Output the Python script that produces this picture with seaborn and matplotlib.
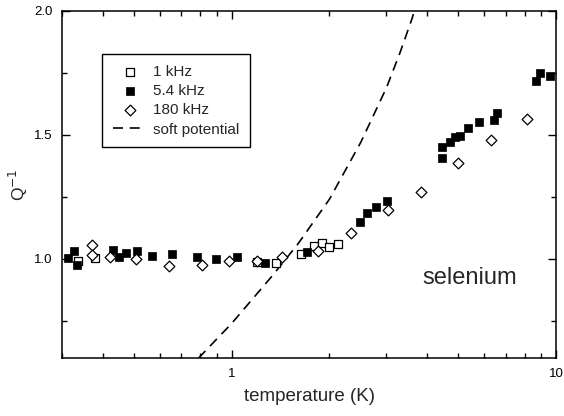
import matplotlib
matplotlib.use("Agg")
import matplotlib.pyplot as plt
import seaborn as sns
import pandas as pd
from matplotlib.ticker import FixedLocator, NullFormatter, LogLocator

# Värden (temperatur i K, Q^-1 normerat)
t_1khz = [0.335, 0.380, 1.20, 1.37, 1.63, 1.79, 1.90, 2.00, 2.13]
q_1khz = [0.992, 1.004, 0.988, 0.984, 1.020, 1.052, 1.064, 1.048, 1.060]

t_54khz = [0.313, 0.327, 0.334, 0.432, 0.451, 0.474, 0.509, 0.567, 0.653,
           0.780, 0.894, 1.04, 1.27, 1.71, 2.49, 2.62, 2.78, 3.01,
           4.44, 4.44, 4.71, 4.88, 5.06, 5.35, 5.78, 6.44, 6.58,
           8.69, 8.89, 9.55]
q_54khz = [1.004, 1.032, 0.976, 1.036, 1.008, 1.024, 1.032, 1.012, 1.020,
           1.008, 1.000, 1.008, 0.984, 1.028, 1.149, 1.185, 1.209, 1.233,
           1.406, 1.450, 1.470, 1.490, 1.494, 1.526, 1.550, 1.558, 1.590,
           1.719, 1.751, 1.739]

t_180khz = [0.370, 0.370, 0.423, 0.506, 0.640, 0.809, 0.98, 1.20, 1.43,
            1.84, 2.34, 3.03, 3.83, 4.99, 6.31, 8.15]
q_180khz = [1.056, 1.016, 1.008, 1.000, 0.972, 0.976, 0.993, 0.993, 1.008,
            1.032, 1.104, 1.197, 1.269, 1.386, 1.478, 1.562]

# soft potential-kurvan, punkter avlästa längs den streckade linjen
t_soft = [0.79, 1.0, 1.33, 1.6, 2.0, 2.5, 3.0, 3.3, 3.6, 3.75]
q_soft = [0.60, 0.74, 0.93, 1.06, 1.24, 1.47, 1.69, 1.83, 1.97, 2.05]

sns.set_theme(style="ticks")
plt.rcParams["font.family"] = ["Liberation Sans", "DejaVu Sans"]

df_1 = pd.DataFrame({"t": t_1khz, "q": q_1khz})
df_54 = pd.DataFrame({"t": t_54khz, "q": q_54khz})
df_180 = pd.DataFrame({"t": t_180khz, "q": q_180khz})
df_soft = pd.DataFrame({"t": t_soft, "q": q_soft})

fig = plt.figure(figsize=(5.64, 4.16), dpi=100)
ax = fig.add_axes([0.110, 0.139, 0.876, 0.835])

sns.lineplot(data=df_soft, x="t", y="q", ax=ax, color="black", lw=1.2,
             label="soft potential", zorder=1)
ax.lines[-1].set_dashes((6, 4))

sns.scatterplot(data=df_1, x="t", y="q", ax=ax, marker="s", s=34,
                facecolor="white", edgecolor="black", linewidth=0.9,
                label="1 kHz", zorder=3)
sns.scatterplot(data=df_54, x="t", y="q", ax=ax, marker="s", s=34,
                color="black", edgecolor="black", linewidth=0.5,
                label="5.4 kHz", zorder=3)
sns.scatterplot(data=df_180, x="t", y="q", ax=ax, marker="D", s=30,
                facecolor="white", edgecolor="black", linewidth=0.9,
                label="180 kHz", zorder=4)

ax.set_xscale("log")
ax.set_xlim(0.3, 10)
ax.set_ylim(0.6, 2.0)

ax.yaxis.set_major_locator(FixedLocator([1.0, 1.5, 2.0]))
ax.yaxis.set_minor_locator(FixedLocator([0.75, 1.25, 1.75]))
ax.set_yticklabels(["1.0", "1.5", "2.0"])
ax.xaxis.set_major_locator(FixedLocator([1, 10]))
ax.xaxis.set_minor_locator(LogLocator(base=10, subs=range(2, 10)))
ax.xaxis.set_minor_formatter(NullFormatter())
ax.set_xticklabels(["1", "10"])

ax.tick_params(which="both", direction="in", top=True, right=True,
               labelsize=9.5, colors="black", width=1)
ax.tick_params(which="major", length=6, pad=7)
ax.tick_params(which="minor", length=3.5)
for sp in ax.spines.values():
    sp.set_linewidth(1.1)
    sp.set_color("black")

ax.set_xlabel("temperature (K)", fontsize=13.5, labelpad=6)
ax.set_ylabel("Q$^{-1}$", fontsize=12.5, labelpad=3)

ax.text(3.88, 0.9, "selenium", fontsize=17)

handles, labels = ax.get_legend_handles_labels()
order = [labels.index(l) for l in ["1 kHz", "5.4 kHz", "180 kHz", "soft potential"]]
leg = ax.legend([handles[i] for i in order], [labels[i] for i in order],
                loc="upper left", bbox_to_anchor=(0.081, 0.876),
                borderaxespad=0, fontsize=11, frameon=True, fancybox=False,
                edgecolor="black", handlelength=2.2, handletextpad=0.45,
                labelspacing=0.35, borderpad=0.7, framealpha=1)
leg.get_frame().set_linewidth(1)

fig.savefig("out.png", dpi=100)
